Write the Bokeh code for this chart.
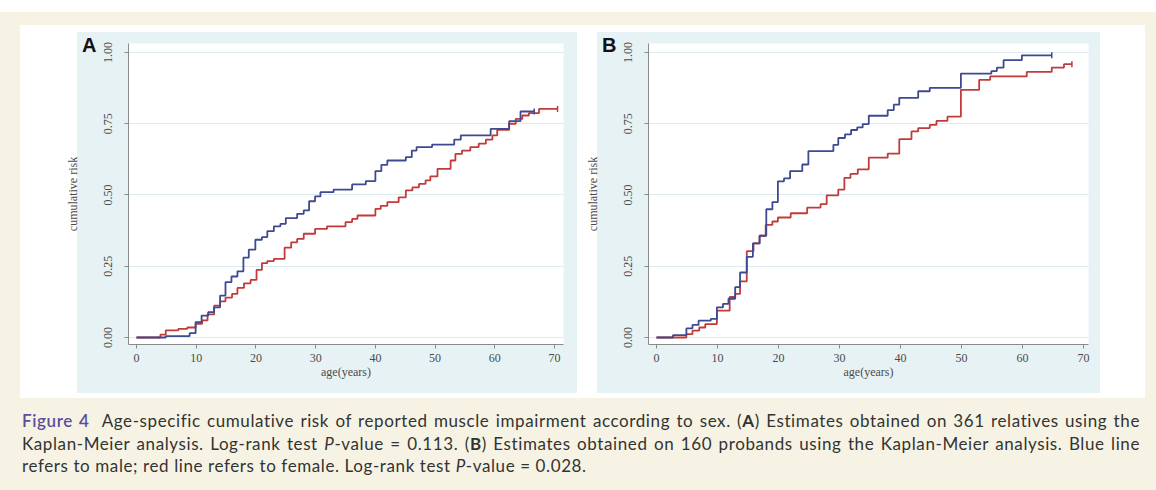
import numpy as np
from bokeh.plotting import figure
from bokeh.models import Range1d, FixedTicker, Div, PrintfTickFormatter
from bokeh.layouts import row, column
from bokeh.embed import file_html
from bokeh.resources import INLINE

# ---------------- data ----------------
x_ticks = [0, 10, 20, 30, 40, 50, 60, 70]
y_ticks = [0.0, 0.25, 0.50, 0.75, 1.00]

# Panel A: 361 relatives
a_male_age = [0, 4.9, 8.9, 9.9, 10.9, 12.0, 13.0, 14.0, 14.9, 15.9, 16.9, 17.9, 18.8, 19.9,
              21.0, 21.9, 23.0, 24.1, 25.0, 26.9, 28.0, 28.9, 29.9, 30.8, 33.0, 36.1, 38.4,
              40.0, 41.0, 42.0, 45.1, 46.1, 46.9, 49.5, 53.2, 54.3, 59.3, 62.4, 64.3, 66.6]
a_male_risk = [0, 0.005, 0.015, 0.054, 0.077, 0.089, 0.106, 0.147, 0.194, 0.214, 0.232, 0.280,
               0.308, 0.343, 0.352, 0.373, 0.390, 0.399, 0.419, 0.434, 0.446, 0.478, 0.495,
               0.510, 0.519, 0.537, 0.549, 0.584, 0.606, 0.621, 0.633, 0.656, 0.668, 0.677,
               0.694, 0.709, 0.732, 0.759, 0.793, 0.793]
a_female_age = [0, 4.0, 4.9, 7.0, 8.5, 9.9, 11.0, 11.9, 13.0, 14.0, 14.9, 16.0, 16.9, 18.0,
                19.1, 20.1, 21.0, 21.9, 23.0, 24.8, 25.9, 26.9, 28.0, 29.9, 31.9, 35.0, 36.1,
                37.0, 40.0, 40.9, 42.0, 43.9, 45.1, 46.2, 47.3, 48.4, 49.2, 50.4, 52.6, 53.4,
                54.5, 55.9, 57.3, 58.5, 59.6, 60.4, 62.4, 63.5, 64.6, 65.7, 67.4, 70.5]
a_female_risk = [0, 0.010, 0.025, 0.030, 0.035, 0.048, 0.060, 0.081, 0.112, 0.127, 0.140,
                 0.153, 0.174, 0.190, 0.202, 0.237, 0.261, 0.268, 0.276, 0.315, 0.334, 0.346,
                 0.364, 0.381, 0.390, 0.405, 0.416, 0.428, 0.451, 0.462, 0.475, 0.492, 0.516,
                 0.527, 0.539, 0.551, 0.565, 0.592, 0.621, 0.644, 0.656, 0.668, 0.680, 0.694,
                 0.709, 0.729, 0.750, 0.767, 0.779, 0.787, 0.802, 0.802]

# Panel B: 160 probands
b_male_age = [0, 2.7, 4.9, 5.9, 6.9, 8.9, 9.9, 10.9, 11.8, 12.9, 13.7, 14.8, 15.8, 16.9, 18.0,
              19.0, 19.9, 20.9, 21.9, 23.9, 24.9, 29.0, 29.8, 30.9, 31.9, 32.9, 33.8, 34.8,
              37.9, 38.9, 39.8, 42.9, 44.8, 49.9, 54.9, 55.8, 56.9, 59.9, 64.8]
b_male_risk = [0, 0.008, 0.032, 0.044, 0.059, 0.065, 0.106, 0.118, 0.136, 0.177, 0.228, 0.283,
               0.330, 0.357, 0.450, 0.475, 0.548, 0.558, 0.584, 0.607, 0.654, 0.676, 0.700,
               0.713, 0.728, 0.737, 0.749, 0.778, 0.798, 0.817, 0.841, 0.864, 0.876, 0.926,
               0.935, 0.947, 0.973, 0.990, 0.990]
b_female_age = [0, 4.9, 5.9, 7.0, 8.0, 9.9, 12.0, 12.9, 13.7, 14.8, 15.9, 16.9, 17.9, 19.0,
                19.9, 22.0, 24.7, 26.9, 27.9, 29.8, 30.8, 31.8, 33.0, 34.8, 37.9, 39.8, 41.8,
                42.9, 44.8, 45.9, 47.7, 49.9, 52.9, 54.7, 60.7, 64.8, 66.8, 68.1]
b_female_risk = [0, 0.012, 0.024, 0.035, 0.047, 0.094, 0.142, 0.153, 0.197, 0.303, 0.330,
                 0.357, 0.395, 0.407, 0.421, 0.436, 0.456, 0.468, 0.499, 0.519, 0.560, 0.574,
                 0.590, 0.631, 0.645, 0.696, 0.723, 0.735, 0.746, 0.760, 0.775, 0.869, 0.904,
                 0.916, 0.932, 0.947, 0.959, 0.959]

x_title = "age(years)"
y_title = "cumulative risk"

# ---------------- styling ----------------
BEIGE = "#f6f3e4"
PANEL = "#e7f2f4"
BLUE = "#3d4a92"
RED = "#c23a3a"
AXIS = "#8a8a8a"
TXT = "#4a4a4a"
SERIF = "Liberation Serif"


def make_panel(m_age, m_risk, f_age, f_risk, xr, width, right_border):
    p = figure(width=width, height=361, output_backend="svg", toolbar_location=None,
               x_range=Range1d(*xr), y_range=Range1d(-0.0246, 1.0316),
               min_border_left=66, min_border_right=right_border,
               min_border_top=11, min_border_bottom=49,
               styles={"background": f"linear-gradient(to right, white 15px, {PANEL} 15px)"})
    p.border_fill_color = None
    p.background_fill_color = "white"
    p.outline_line_color = None

    p.xaxis.ticker = FixedTicker(ticks=x_ticks)
    p.yaxis.ticker = FixedTicker(ticks=y_ticks)
    p.yaxis.formatter = PrintfTickFormatter(format="%.2f")
    for ax in (p.xaxis[0], p.yaxis[0]):
        ax.axis_line_color = AXIS
        ax.major_tick_line_color = AXIS
        ax.minor_tick_line_color = None
        ax.major_tick_out = 4
        ax.major_tick_in = 0
        ax.major_label_text_font = SERIF
        ax.major_label_text_font_size = "12px"
        ax.major_label_text_color = TXT
        ax.axis_label_text_font = SERIF
        ax.axis_label_text_font_size = "12px"
        ax.axis_label_text_font_style = "normal"
        ax.axis_label_text_color = TXT
    p.xaxis.axis_label = x_title
    p.yaxis.axis_label = y_title
    p.xaxis.major_label_standoff = 5
    p.xaxis.axis_label_standoff = 0
    p.yaxis.major_label_orientation = "vertical"
    p.yaxis.major_label_standoff = 12
    p.yaxis.axis_label_standoff = 22

    p.xgrid.visible = False
    p.ygrid.grid_line_color = "#dcebee"
    p.ygrid.grid_line_width = 1

    p.step(f_age, f_risk, mode="after", line_color=RED, line_width=1.8)
    p.step(m_age, m_risk, mode="after", line_color=BLUE, line_width=1.8)
    p.scatter([f_age[-1]], [f_risk[-1]], marker="dash", angle=np.pi / 2, size=6,
              line_color=RED, line_width=1.5)
    p.scatter([m_age[-1]], [m_risk[-1]], marker="dash", angle=np.pi / 2, size=6,
              line_color=BLUE, line_width=1.5)
    return p


pA = make_panel(a_male_age, a_male_risk, a_female_age, a_female_risk,
                (-1.34, 71.5), 515, 14)
pA.margin = (7, 0, 0, 42)
pB = make_panel(b_male_age, b_male_risk, b_female_age, b_female_risk,
                (-1.31, 70.82), 518, 12)
pB.margin = (7, 0, 0, 0)


def panel_letter(letter, left):
    return Div(text=letter, width=24, height=26,
               styles={"position": "absolute", "left": f"{left}px", "top": "4px",
                       "z-index": "10", "font-family": "Liberation Sans",
                       "font-weight": "bold", "font-size": "20px", "color": "#111111",
                       "line-height": "normal"})


letterA = panel_letter("A", 57)
letterB = panel_letter("B", 577)

inner = row(pA, pB, letterA, letterB, width=1125, height=373, spacing=5,
            margin=(13, 11, 0, 20),
            styles={"background-color": "white", "position": "relative"})

line1 = ("<span style='color:#5b4ea0;font-weight:600'>Figure 4</span>&nbsp; Age-specific cumulative "
         "risk of reported muscle impairment according to sex. (<b>A</b>) Estimates obtained on 361 "
         "relatives using the")
line2 = ("Kaplan-Meier analysis. Log-rank test <i>P</i>-value = 0.113. (<b>B</b>) Estimates obtained "
         "on 160 probands using the Kaplan-Meier analysis. Blue line")
line3 = "refers to male; red line refers to female. Log-rank test <i>P</i>-value = 0.028."
jst = "text-align:justify;text-align-last:justify;"
cap_html = (
    "<div style='font-family:Lato;font-size:17px;letter-spacing:0.6px;line-height:22.5px;"
    "color:#333;width:1118px'>"
    f"<div style='{jst}'>{line1}</div>"
    f"<div style='{jst}'>{line2}</div>"
    f"<div>{line3}</div></div>"
)
cap = Div(text=cap_html, width=1120, height=72, margin=(12, 0, 0, 22))

page = column(inner, cap, width=1156, height=478, margin=(12, 0, 0, 0),
              styles={"background-color": BEIGE})

open("out.html", "w").write(file_html(page, INLINE))
